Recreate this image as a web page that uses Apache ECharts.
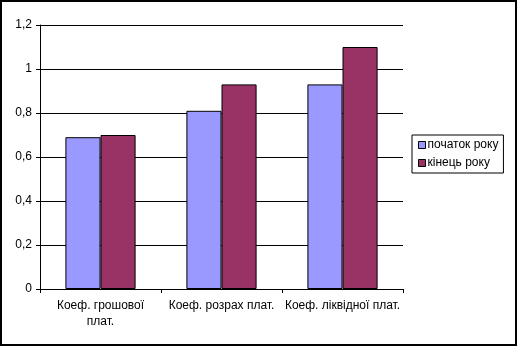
<!DOCTYPE html>
<html>
<head>
<meta charset="utf-8">
<script src="https://cdn.jsdelivr.net/npm/echarts@6/dist/echarts.min.js"></script>
<style>
  html, body { margin: 0; padding: 0; background: #fff; }
  #chart { width: 517px; height: 347px; }
</style>
</head>
<body>
<div id="chart"></div>
<script>
// Liquidity ratios at the start and end of the year
const categories = ['Коеф. грошової\nплат.', 'Коеф. розрах плат.', 'Коеф. ліквідної плат.'];
const seriesNames = ['початок року', 'кінець року'];
const startOfYear = [0.69, 0.81, 0.93];
const endOfYear = [0.70, 0.93, 1.10];
const yTicks = [0, 0.2, 0.4, 0.6, 0.8, 1, 1.2];

const FONT = '"Liberation Sans", Arial, sans-serif';
const colors = ['#9999FF', '#993366'];

const chart = echarts.init(document.getElementById('chart'), null, { renderer: 'canvas' });

chart.setOption({
  animation: false,
  backgroundColor: '#ffffff',
  textStyle: { fontFamily: FONT, fontSize: 12, color: '#000' },
  graphic: [{
    type: 'rect',
    shape: { x: 1, y: 1, width: 515, height: 344 },
    style: { fill: 'none', stroke: '#000', lineWidth: 2 },
    silent: true
  }],
  grid: { left: 40, top: 25, right: 114, bottom: 58, containLabel: false },
  legend: {
    orient: 'vertical',
    left: 412,
    top: 135,
    data: seriesNames,
    icon: 'rect',
    itemWidth: 7,
    itemHeight: 7,
    itemGap: 6,
    padding: [4, 5, 4, 6],
    borderColor: '#000',
    borderWidth: 1,
    backgroundColor: '#fff',
    itemStyle: { borderColor: '#000', borderWidth: 1 },
    textStyle: { fontFamily: FONT, fontSize: 12, color: '#000', lineHeight: 12, padding: [0, 0, 0, -3] }
  },
  xAxis: {
    type: 'category',
    data: categories,
    axisLine: { lineStyle: { color: '#000', width: 1 } },
    axisTick: { show: true, length: 4, alignWithLabel: false, lineStyle: { color: '#000' } },
    axisLabel: { color: '#000', fontFamily: FONT, fontSize: 12, margin: 9, lineHeight: 16, interval: 0 },
    splitLine: { show: false }
  },
  yAxis: {
    type: 'value',
    min: 0,
    max: 1.2,
    interval: 0.2,
    axisLine: { show: true, lineStyle: { color: '#000', width: 1 } },
    axisTick: { show: true, length: 4, lineStyle: { color: '#000' } },
    axisLabel: {
      color: '#000', fontFamily: FONT, fontSize: 12, margin: 8,
      formatter: v => {
        const t = yTicks.find(k => Math.abs(k - v) < 1e-9);
        return String(t !== undefined ? t : +v.toFixed(1)).replace('.', ',');
      }
    },
    splitLine: { show: true, lineStyle: { color: '#000', width: 1 } }
  },
  series: [
    {
      name: seriesNames[0],
      type: 'bar',
      data: startOfYear,
      barGap: '0%',
      barCategoryGap: '42%',
      itemStyle: { color: colors[0], borderColor: '#000', borderWidth: 1 }
    },
    {
      name: seriesNames[1],
      type: 'bar',
      data: endOfYear,
      barGap: '0%',
      barCategoryGap: '42%',
      itemStyle: { color: colors[1], borderColor: '#000', borderWidth: 1 }
    }
  ]
});
</script>
</body>
</html>
